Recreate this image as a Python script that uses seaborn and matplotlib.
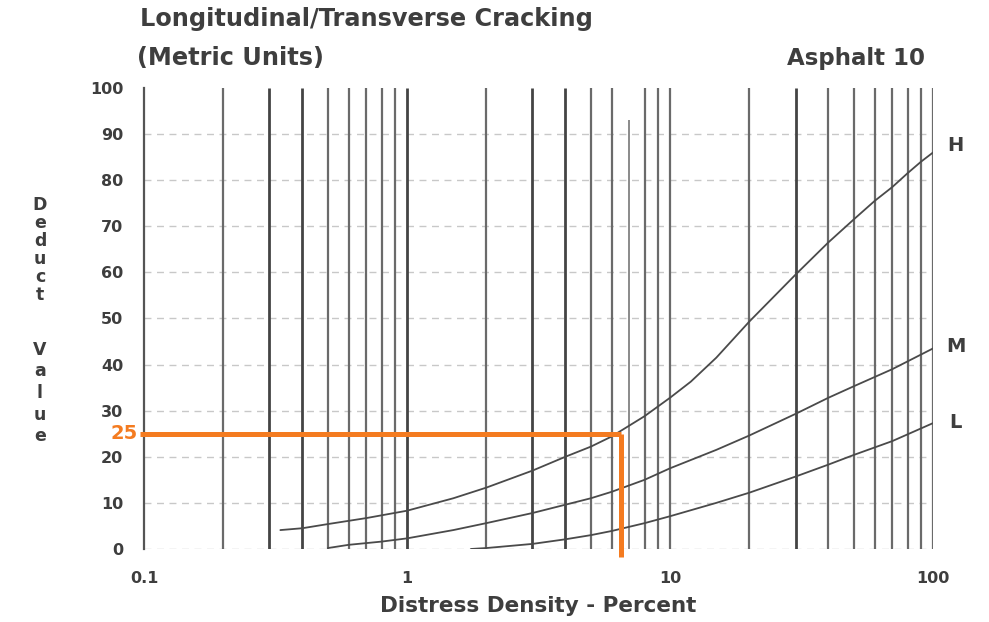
import matplotlib
matplotlib.use("Agg")
import matplotlib.pyplot as plt
import matplotlib.transforms as mtransforms
import pandas as pd
import seaborn as sns

# Deduct curves: distress density (%) vs deduct value, one per severity level
h_density = [0.33, 0.4, 0.5, 0.7, 1, 1.5, 2, 3, 4, 5, 6, 8, 10, 12, 15, 20, 30, 40, 50, 60, 70, 80, 90, 100]
h_deduct = [4.1, 4.5, 5.4, 6.7, 8.3, 11.0, 13.3, 17.0, 20.0, 22.2, 24.4, 28.8, 32.8, 36.3, 41.5, 49.3, 59.5, 66.5, 71.5, 75.5, 78.5, 81.5, 84.0, 86.0]

m_density = [0.5, 0.6, 0.8, 1, 1.5, 2, 3, 4, 5, 6, 8, 10, 15, 20, 30, 40, 50, 70, 100]
m_deduct = [0.2, 0.9, 1.6, 2.3, 4.1, 5.6, 7.8, 9.6, 11.0, 12.4, 15.0, 17.5, 21.5, 24.6, 29.3, 32.8, 35.3, 39.0, 43.5]

l_density = [1.75, 2, 3, 4, 5, 6, 8, 10, 15, 20, 30, 40, 50, 70, 100]
l_deduct = [0.0, 0.2, 1.1, 2.1, 3.0, 3.9, 5.6, 7.1, 10.0, 12.2, 15.7, 18.3, 20.4, 23.4, 27.3]

severity_labels = ["H", "M", "L"]
severity_label_values = [87.5, 44.0, 27.5]

# Log-paper grid lines
grid_density = [0.2, 0.3, 0.4, 0.5, 0.6, 0.7, 0.8, 0.9, 1,
                2, 3, 4, 5, 6, 8, 9, 10,
                20, 30, 40, 50, 60, 70, 80, 90, 100]
heavy_density = [0.3, 0.4, 1, 3, 4, 30]
short_density = [7]
short_top = 93

y_ticks = [0, 10, 20, 30, 40, 50, 60, 70, 80, 90, 100]
x_ticks = [0.1, 1, 10, 100]
x_tick_labels = ["0.1", "1", "10", "100"]

# Worked example: read-off at a given density
example_density = 6.5
example_deduct = 25

sns.set_theme(style="white")
plt.rcParams["font.family"] = ["DejaVu Sans"]

text_color = "#3e3e3e"
grid_color = "#6a6a6a"
curve_color = "#4a4a4a"
orange = "#f47b20"

fig = plt.figure(figsize=(9.89, 6.22), dpi=100)
fig.patch.set_facecolor("white")
ax = fig.add_axes([0.1456, 0.1174, 0.7978, 0.7412])
ax.set_facecolor("white")
ax.set_xscale("log")
ax.set_xlim(0.1, 100)
ax.set_ylim(0, 100)

# horizontal dashed rules
ax.hlines(y_ticks[:-1], 0.1, 100, colors="#c8c8c8", linestyles=(0, (5, 4)), lw=1.0, zorder=1)

# vertical log-cycle rules
normal = [d for d in grid_density if d not in heavy_density]
ax.vlines(normal, 0, 100, colors=grid_color, lw=1.6, zorder=2)
ax.vlines(heavy_density, 0, 100, colors="#444444", lw=2.0, zorder=2)
ax.vlines(short_density, 0, short_top, colors="#8a8a8a", lw=1.4, zorder=2)

curves = pd.concat([
    pd.DataFrame({"density": h_density, "deduct": h_deduct, "severity": "H"}),
    pd.DataFrame({"density": m_density, "deduct": m_deduct, "severity": "M"}),
    pd.DataFrame({"density": l_density, "deduct": l_deduct, "severity": "L"}),
], ignore_index=True)

sns.lineplot(data=curves, x="density", y="deduct", hue="severity",
             palette={s: curve_color for s in severity_labels},
             estimator=None, sort=False, legend=False, lw=1.3, ax=ax, zorder=3)

for lab, val in zip(severity_labels, severity_label_values):
    ax.text(122, val, lab, ha="center", va="center", fontsize=14,
            fontweight="bold", color=text_color)

# example read-off lines
ax.plot([0.0966, example_density], [example_deduct, example_deduct],
        color=orange, lw=3.6, solid_capstyle="butt", clip_on=False, zorder=5)
ax.plot([example_density, example_density], [example_deduct, -1.8],
        color=orange, lw=3.6, solid_capstyle="butt", clip_on=False, zorder=5)
blend = mtransforms.blended_transform_factory(ax.transAxes, ax.transData)
ax.text(-0.008, example_deduct, str(example_deduct), transform=blend,
        ha="right", va="center", fontsize=14, fontweight="bold", color=orange)

for side in ["top", "right", "bottom"]:
    ax.spines[side].set_visible(False)
ax.spines["left"].set_color("#555555")
ax.spines["left"].set_linewidth(1.6)

ax.set_yticks(y_ticks)
ax.set_yticklabels([str(v) for v in y_ticks])
ax.set_xticks(x_ticks)
ax.set_xticklabels(x_tick_labels)
ax.minorticks_off()
ax.tick_params(axis="y", length=4, width=1, direction="inout", color="#555555",
               pad=13, labelsize=11.5, labelcolor=text_color)
ax.tick_params(axis="x", length=0, pad=16, labelsize=11.5, labelcolor=text_color)
for lbl in ax.get_xticklabels() + ax.get_yticklabels():
    lbl.set_fontweight("bold")

ax.set_xlabel("Distress Density - Percent", fontsize=15.5, fontweight="bold",
              color=text_color, labelpad=7)
ax.set_ylabel("")

# stacked vertical axis title
W, H = 989, 622
for i, ch in enumerate("Deduct"):
    fig.text(40 / W, 1 - (205 + i * 18) / H, ch, ha="center", va="center",
             fontsize=12.5, fontweight="bold", color=text_color)
for i, ch in enumerate("Value"):
    fig.text(40 / W, 1 - (350 + i * 21.5) / H, ch, ha="center", va="center",
             fontsize=12.5, fontweight="bold", color=text_color)

fig.text(140 / W, 1 - 19 / H, "Longitudinal/Transverse Cracking", ha="left", va="center",
         fontsize=17.3, fontweight="bold", color=text_color)
fig.text(137 / W, 1 - 58 / H, "(Metric Units)", ha="left", va="center",
         fontsize=17.3, fontweight="bold", color=text_color)
fig.text(925 / W, 1 - 58 / H, "Asphalt 10", ha="right", va="center",
         fontsize=16.5, fontweight="bold", color=text_color)

fig.savefig("out.png", dpi=100, facecolor="white")
